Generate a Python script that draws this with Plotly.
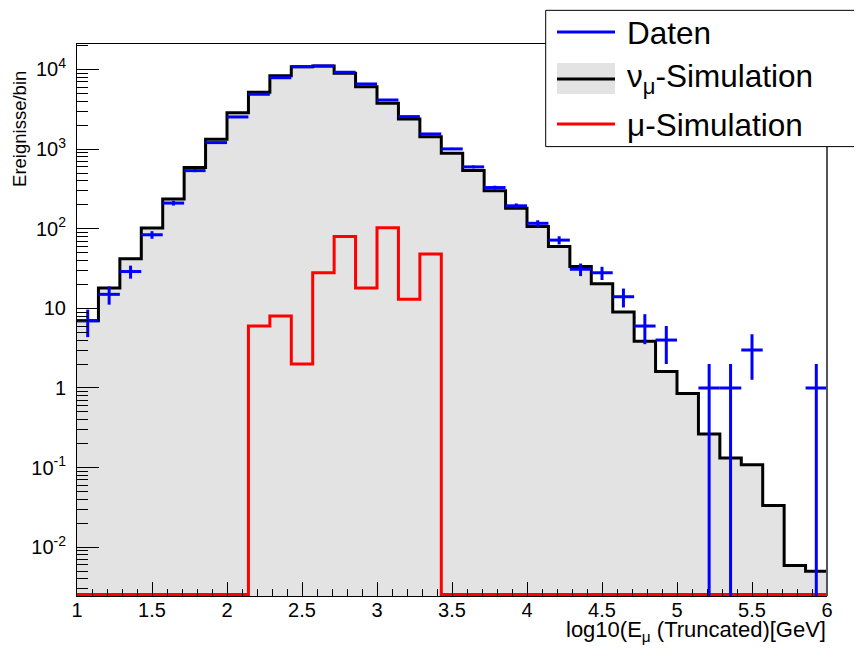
import numpy as np
import plotly.graph_objects as go

# ---------------- data ----------------
x_min, x_max, n_bins = 1.0, 6.0, 35

nu_sim = [7.0, 18, 42, 102, 237, 586, 1330, 2870, 5180, 8350,
          10800, 11060, 8960, 6080, 3770, 2390, 1435, 887, 537, 301,
          181, 107, 60, 33.6, 20.4, 9.0, 3.85, 1.61, 0.85, 0.265,
          0.132, 0.109, 0.0334, 0.0059, 0.0050]

daten = [7, 15, 29, 84, 210, 537, 1207, 2535, 4886, 7880,
         10840, 11060, 9230, 6580, 4140, 2560, 1550, 1006, 598, 329,
         194, 117, 72, 31, 28, 14, 6, 4, 0, 1,
         1, 3, 0, 0, 1]

mu_sim = [0, 0, 0, 0, 0, 0, 0, 0, 6, 8,
          2, 28, 80, 18, 103, 13, 48, 0, 0, 0,
          0, 0, 0, 0, 0, 0, 0, 0, 0, 0,
          0, 0, 0, 0, 0]

y_tick_vals = [1e-2, 1e-1, 1, 10, 1e2, 1e3, 1e4]
y_tick_text = ["10<sup>-2</sup>", "10<sup>-1</sup>", "1", "10",
               "10<sup>2</sup>", "10<sup>3</sup>", "10<sup>4</sup>"]

legend_labels = ["Daten", "ν<sub>μ</sub>-Simulation", "μ-Simulation"]

# ---------------- derived ----------------
edges = np.linspace(x_min, x_max, n_bins + 1)
centers = 0.5 * (edges[:-1] + edges[1:])
half_w = 0.5 * (edges[1] - edges[0])

Y_FLOOR = 0.00255           # histogram minimum (zero bins drawn here)
Y_TOP = 2.09e4
y_range = [np.log10(Y_FLOOR) - 0.019, np.log10(Y_TOP)]

nu = np.array(nu_sim, dtype=float)
dat = np.array(daten, dtype=float)
mu = np.array(mu_sim, dtype=float)
mu_draw = np.where(mu > 0, mu, Y_FLOOR)

mask = dat > 0
err = np.sqrt(dat[mask])
err_minus = np.minimum(err, dat[mask] - Y_FLOOR * 0.3)

# ---------------- layout geometry (screen pixels) ----------------
W, H = 862, 650
OFF = 8                      # page body margin
L, R, T, B = 77, 827, 44, 596.5


def px(x):
    return (x - L) / (R - L)


def py(y):
    return (B - y) / (B - T)


FONT = "Liberation Sans, Arial, Helvetica, sans-serif"
FILL = "#e3e3e3"

fig = go.Figure()

fig.add_trace(go.Scatter(
    x=edges, y=np.append(nu, nu[-1]), mode="lines", line_shape="hv",
    fill="tozeroy", fillcolor=FILL,
    line=dict(color="black", width=3), showlegend=False, hoverinfo="skip"))

fig.add_trace(go.Scatter(
    x=edges, y=np.append(mu_draw, mu_draw[-1]), mode="lines", line_shape="hv",
    line=dict(color="#ff0000", width=3), showlegend=False, hoverinfo="skip"))

fig.add_trace(go.Scatter(
    x=centers[mask], y=dat[mask], mode="markers",
    marker=dict(size=1, color="#0000ff", opacity=0),
    error_y=dict(type="data", array=err, arrayminus=err_minus, symmetric=False,
                 color="#0000ff", thickness=3, width=0),
    error_x=dict(type="constant", value=half_w, color="#0000ff",
                 thickness=3, width=0),
    showlegend=False, hoverinfo="skip"))

minor_vals = [k * 10.0 ** d for d in range(-3, 5) for k in range(2, 10)]

fig.update_layout(
    width=W, height=H, autosize=False,
    margin=dict(l=L - OFF, r=W - (R - OFF), t=T - OFF, b=H - (B - OFF), pad=0),
    paper_bgcolor="white", plot_bgcolor="white",
    font=dict(family=FONT, size=20, color="black"),
    xaxis=dict(range=[x_min, x_max], tick0=1, dtick=0.5,
               ticks="inside", ticklen=14, tickwidth=1, tickcolor="black",
               minor=dict(ticks="inside", ticklen=7, dtick=0.1, tick0=1,
                          tickcolor="black", tickwidth=1, showgrid=False),
               showgrid=False, zeroline=False,
               showline=True, linecolor="black", linewidth=1, mirror=True,
               tickfont=dict(size=20, family=FONT), ticklabelstandoff=-4),
    yaxis=dict(type="log", range=y_range,
               tickvals=y_tick_vals, ticktext=y_tick_text,
               ticks="inside", ticklen=22, tickwidth=1, tickcolor="black",
               minor=dict(ticks="inside", ticklen=11, tickvals=minor_vals,
                          tickcolor="black", tickwidth=1, showgrid=False),
               showgrid=False, zeroline=False,
               showline=True, linecolor="black", linewidth=1,
               tickfont=dict(size=20, family=FONT), ticklabelstandoff=6),
)

shapes = []
shapes.append(dict(type="line", xref="paper", yref="paper", x0=1, x1=1, y0=0, y1=1,
                   line=dict(color="#555555", width=2), layer="above"))
shapes.append(dict(type="rect", xref="paper", yref="paper",
                   x0=px(545.7), x1=px(880), y0=py(146.7), y1=py(10.3),
                   line=dict(color="black", width=1), fillcolor="white", layer="above"))
shapes.append(dict(type="rect", xref="paper", yref="paper",
                   x0=px(557), x1=px(615), y0=py(94), y1=py(63),
                   line=dict(width=0), fillcolor=FILL, layer="above"))
for yy, col in [(32, "#0000ff"), (79, "black"), (124, "#ff0000")]:
    shapes.append(dict(type="line", xref="paper", yref="paper",
                       x0=px(557), x1=px(615), y0=py(yy), y1=py(yy),
                       line=dict(color=col, width=3), layer="above"))
fig.update_layout(shapes=shapes)

annotations = []
for yy, txt in zip([33, 79, 125], legend_labels):
    annotations.append(dict(text=txt, xref="paper", yref="paper",
                            x=px(625), y=py(yy), xanchor="left", yanchor="middle",
                            showarrow=False, font=dict(size=31.5, family=FONT, color="black")))
annotations.append(dict(text="Ereignisse/bin", xref="paper", yref="paper",
                        x=px(20), y=py(129), xanchor="center", yanchor="middle",
                        textangle=-90, showarrow=False,
                        font=dict(size=18.5, family=FONT, color="black")))
annotations.append(dict(text="log10(E<sub>μ</sub> (Truncated)[GeV]",
                        xref="paper", yref="paper",
                        x=px(828), y=py(632), xanchor="right", yanchor="middle",
                        showarrow=False, font=dict(size=22, family=FONT, color="black")))
fig.update_layout(annotations=annotations)

fig.write_html("out.html")
